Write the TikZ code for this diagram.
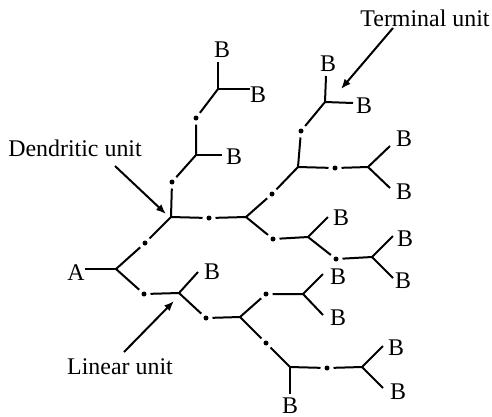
\documentclass[tikz,border=0pt]{standalone}
\usepackage{fontspec}
\setmainfont{Liberation Serif}
\usetikzlibrary{arrows.meta}
\begin{document}
\begin{tikzpicture}[x=1bp,y=-1bp,
  bond/.style={line width=2bp},
  dot/.style={circle,fill,inner sep=0pt,minimum size=5bp,outer sep=4bp},
  lbl/.style={inner sep=0pt,font=\fontsize{24}{28}\selectfont},
  pointer/.style={line width=2bp,-{Latex[length=10bp,width=8bp]}}]
\useasboundingbox (0,0) rectangle (492,416);

% branch points
\coordinate (J1) at (116,269);
\coordinate (J2) at (171,217);
\coordinate (J3) at (179,293);
\coordinate (J4) at (240,317);
\coordinate (J5) at (303,294);
\coordinate (J6) at (290,367);
\coordinate (J7) at (362,367);
\coordinate (J8) at (196,155);
\coordinate (J9) at (218,89);
\coordinate (J10) at (246,217);
\coordinate (J11) at (308,237);
\coordinate (J12) at (372,257);
\coordinate (J13) at (298,167);
\coordinate (J14) at (368,167);
\coordinate (J15) at (325,102);

% linking dots
\node[dot] (d1) at (145,243) {};
\node[dot] (d2) at (144,294) {};
\node[dot] (d3) at (206,318) {};
\node[dot] (d4) at (266,294) {};
\node[dot] (d5) at (266,343) {};
\node[dot] (d6) at (327,368) {};
\node[dot] (d7) at (172,182) {};
\node[dot] (d8) at (196,118) {};
\node[dot] (d9) at (209,218) {};
\node[dot] (d10) at (272,194) {};
\node[dot] (d11) at (273,239) {};
\node[dot] (d12) at (336,259) {};
\node[dot] (d13) at (335,168) {};
\node[dot] (d14) at (301,131) {};

% free ends of the B arms
\coordinate (e1) at (198,272);
\coordinate (e2) at (323,274);
\coordinate (e3) at (323,315);
\coordinate (e4) at (290,394);
\coordinate (e5) at (383,346);
\coordinate (e6) at (383,388);
\coordinate (e7) at (222,155);
\coordinate (e8) at (250,89);
\coordinate (e9) at (218,62);
\coordinate (e10) at (328,217);
\coordinate (e11) at (393,236);
\coordinate (e12) at (393,278);
\coordinate (e13) at (390,146);
\coordinate (e14) at (390,188);
\coordinate (e15) at (353,103);
\coordinate (e16) at (326,76);

% labels
\node[lbl] (A) at (76,273) {A};
\node[lbl] (b1) at (212,272) {B};
\node[lbl] (b2) at (338,277) {B};
\node[lbl] (b3) at (338,318) {B};
\node[lbl] (b4) at (290,406) {B};
\node[lbl] (b5) at (396,348) {B};
\node[lbl] (b6) at (398,392) {B};
\node[lbl] (b7) at (234,157) {B};
\node[lbl] (b8) at (258,95) {B};
\node[lbl] (b9) at (222,50) {B};
\node[lbl] (b10) at (341,218) {B};
\node[lbl] (b11) at (405,239) {B};
\node[lbl] (b12) at (403,281) {B};
\node[lbl] (b13) at (404,139) {B};
\node[lbl] (b14) at (404,192) {B};
\node[lbl] (b15) at (364,106) {B};
\node[lbl] (b16) at (328,64) {B};
\node[lbl] (dend) at (75,148) {Dendritic unit};
\node[lbl] (term) at (425,18) {Terminal unit};
\node[lbl] (lin) at (120,367) {Linear unit};

% the branched chain
\draw[bond] (J1) -- (J1 -| A.east);
\draw[bond] (J1) -- (d1) -- (J2);
\draw[bond] (J1) -- (d2) -- (J3);
\draw[bond] (J3) -- (e1);
\draw[bond] (J3) -- (d3) -- (J4);
\draw[bond] (J4) -- (d4) -- (J5);
\draw[bond] (J5) -- (e2);
\draw[bond] (J5) -- (e3);
\draw[bond] (J4) -- (d5) -- (J6);
\draw[bond] (J6) -- (e4);
\draw[bond] (J6) -- (d6) -- (J7);
\draw[bond] (J7) -- (e5);
\draw[bond] (J7) -- (e6);
\draw[bond] (J2) -- (d7) -- (J8);
\draw[bond] (J8) -- (e7);
\draw[bond] (J8) -- (d8) -- (J9);
\draw[bond] (J9) -- (e8);
\draw[bond] (J9) -- (e9);
\draw[bond] (J2) -- (d9) -- (J10);
\draw[bond] (J10) -- (d10) -- (J13);
\draw[bond] (J10) -- (d11) -- (J11);
\draw[bond] (J11) -- (e10);
\draw[bond] (J11) -- (d12) -- (J12);
\draw[bond] (J12) -- (e11);
\draw[bond] (J12) -- (e12);
\draw[bond] (J13) -- (d13) -- (J14);
\draw[bond] (J14) -- (e13);
\draw[bond] (J14) -- (e14);
\draw[bond] (J13) -- (d14) -- (J15);
\draw[bond] (J15) -- (e15);
\draw[bond] (J15) -- (e16);

% pointers to the units
\coordinate (p1) at (115,166);
\coordinate (q1) at (166,214);
\coordinate (p2) at (393,28);
\coordinate (q2) at (341,89);
\coordinate (p3) at (124,352);
\coordinate (q3) at (174,301);
\draw[pointer] (p1) -- (q1);
\draw[pointer] (p2) -- (q2);
\draw[pointer] (p3) -- (q3);
\end{tikzpicture}
\end{document}
